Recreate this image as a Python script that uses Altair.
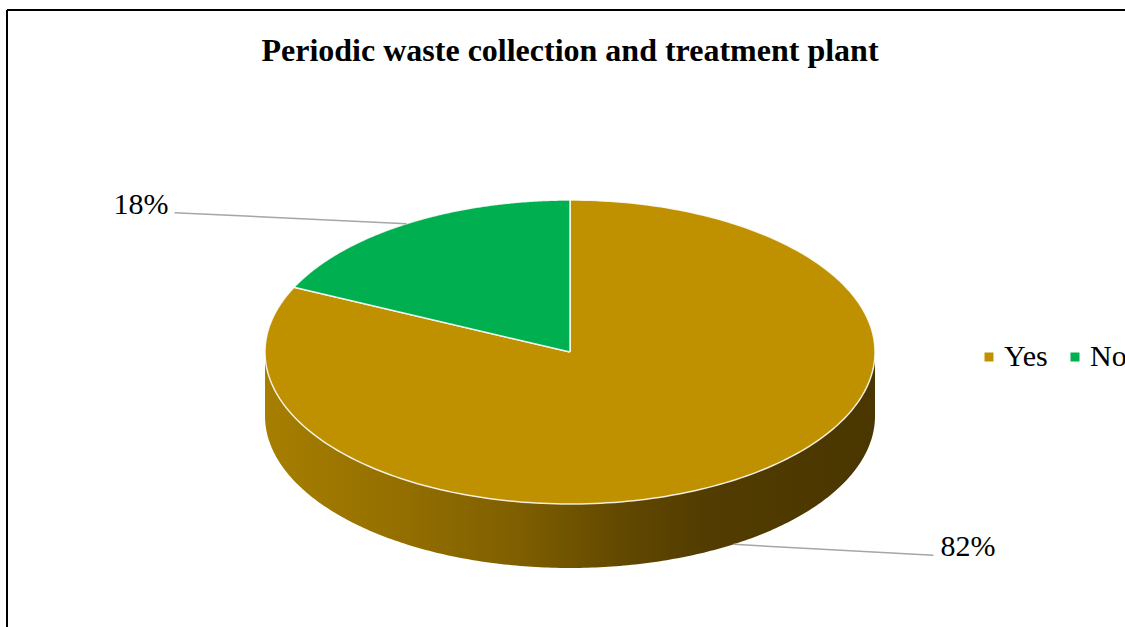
import altair as alt
import pandas as pd

# ---- data ----
categories = ["Yes", "No"]
values = [82, 18]

# ---- style / layout constants ----
COLORS = ["#BF9000", "#00B050"]
CX, CY = 570, 352          # centre of pie top face (page px)
RX, RY = 305, 152          # ellipse radii
DEPTH = 64                 # thickness of the 3D wall
N = 240                    # points per slice outline
LABEL_OFFSET = {"Yes": (200, 11), "No": (-232, -11)}
FONT = "Liberation Serif"
PAD_L, PAD_T = 7, 10
W, H = 1125 - PAD_L, 627 - PAD_T

df = pd.DataFrame({"cat": categories, "value": values, "order": list(range(len(categories)))})

xs = alt.Scale(domain=[PAD_L, PAD_L + W], nice=False, zero=False)
ys = alt.Scale(domain=[PAD_T, PAD_T + H], nice=False, zero=False, reverse=True)

def dict_expr(d, i):
    e = "0"
    for k, v in d.items():
        e = f"(datum.cat == '{k}' ? {v[i]} : {e})"
    return e

base = (
    alt.Chart(df)
    .transform_joinaggregate(total="sum(value)")
    .transform_window(cum="sum(value)", frame=[None, 0], sort=[alt.SortField("order")])
    .transform_calculate(
        start="(datum.cum - datum.value) / datum.total",
        end="datum.cum / datum.total",
    )
)

# side wall (front half only) drawn as a closed outline: upper edge forward, lower edge back
wall = (
    base.transform_calculate(ws="max(datum.start, 0.25)", we="min(datum.end, 0.75)")
    .transform_filter("datum.ws < datum.we")
    .transform_calculate(idx=f"sequence(0, {2 * N})")
    .transform_flatten(["idx"])
    .transform_calculate(
        lower=f"datum.idx >= {N}",
        k=f"datum.idx < {N} ? datum.idx : {2 * N - 1} - datum.idx",
    )
    .transform_calculate(fw=f"datum.ws + (datum.we - datum.ws) * datum.k / ({N} - 1)")
    .transform_calculate(
        wx=f"{CX} + {RX} * sin(2 * PI * datum.fw)",
        wy=f"{CY} - {RY} * cos(2 * PI * datum.fw) + (datum.lower ? {DEPTH} : 0)",
    )
    .mark_line(
        fill=alt.Gradient(
            gradient="linear",
            x1=0, x2=1, y1=0, y2=0,
            stops=[
                alt.GradientStop(color="#A67E00", offset=0),
                alt.GradientStop(color="#967100", offset=0.2),
                alt.GradientStop(color="#7E5E00", offset=0.42),
                alt.GradientStop(color="#634900", offset=0.58),
                alt.GradientStop(color="#523C00", offset=0.72),
                alt.GradientStop(color="#4A3600", offset=1),
            ],
        ),
        strokeWidth=0,
    )
    .encode(
        x=alt.X("wx:Q", scale=xs, axis=None),
        y=alt.Y("wy:Q", scale=ys, axis=None),
        order="idx:Q",
        detail="cat:N",
    )
)

# top face slices
top = (
    base.transform_calculate(idx=f"sequence(0, {N + 2})")
    .transform_flatten(["idx"])
    .transform_calculate(
        f=f"datum.start + (datum.end - datum.start) * clamp((datum.idx - 1) / ({N} - 1), 0, 1)",
        centre=f"datum.idx == 0 || datum.idx == {N + 1}",
    )
    .transform_calculate(
        px=f"datum.centre ? {CX} : {CX} + {RX} * sin(2 * PI * datum.f)",
        py=f"datum.centre ? {CY} : {CY} - {RY} * cos(2 * PI * datum.f)",
    )
    .mark_line(stroke="#FFFFFF", strokeWidth=1.5, strokeOpacity=0.85, strokeJoin="round")
    .encode(
        x=alt.X("px:Q", scale=xs, axis=None),
        y=alt.Y("py:Q", scale=ys, axis=None),
        order="idx:Q",
        detail="cat:N",
        fill=alt.Fill(
            "cat:N",
            scale=alt.Scale(domain=categories, range=COLORS),
            sort=categories,
            legend=alt.Legend(
                title=None,
                orient="none",
                legendX=967,
                legendY=332,
                direction="horizontal",
                symbolType="square",
                symbolSize=81,
                symbolStrokeWidth=0,
                labelFont=FONT,
                labelFontSize=30,
                labelColor="#000000",
                labelOffset=0,
                columnPadding=12,
            ),
        ),
    )
)

# label anchor points
lab = (
    base.transform_calculate(mid="(datum.start + datum.end) / 2")
    .transform_calculate(
        ex=f"{CX} + {RX} * sin(2 * PI * datum.mid)",
        ey=f"{CY} - {RY} * cos(2 * PI * datum.mid) + (cos(2 * PI * datum.mid) < 0 ? {DEPTH} : 0)",
        pct="format(datum.value / datum.total, '.0%')",
    )
    .transform_calculate(
        lx=f"datum.ex + {dict_expr(LABEL_OFFSET, 0)}",
        ly=f"datum.ey + {dict_expr(LABEL_OFFSET, 1)}",
    )
)

leader = lab.mark_rule(color="#A6A6A6", strokeWidth=1.5).encode(
    x=alt.X("ex:Q", scale=xs, axis=None),
    y=alt.Y("ey:Q", scale=ys, axis=None),
    x2="lx:Q",
    y2="ly:Q",
)

text_left = (
    lab.transform_filter("datum.lx < datum.ex")
    .transform_calculate(tx="datum.lx - 6", ty="datum.ly + 1")
    .mark_text(align="right", baseline="alphabetic", font=FONT, fontSize=30, color="#000000")
    .encode(x=alt.X("tx:Q", scale=xs, axis=None), y=alt.Y("ty:Q", scale=ys, axis=None), text="pct:N")
)
text_right = (
    lab.transform_filter("datum.lx >= datum.ex")
    .transform_calculate(tx="datum.lx + 7", ty="datum.ly + 1")
    .mark_text(align="left", baseline="alphabetic", font=FONT, fontSize=30, color="#000000")
    .encode(x=alt.X("tx:Q", scale=xs, axis=None), y=alt.Y("ty:Q", scale=ys, axis=None), text="pct:N")
)

# chart frame: left and top edges only (right/bottom fall outside the picture)
frame_left = alt.Chart(df).mark_rule(color="#000000", strokeWidth=2).encode(
    x=alt.value(0), y=alt.value(0), y2=alt.value(H)
)
frame_top = alt.Chart(df).mark_rule(color="#000000", strokeWidth=2).encode(
    x=alt.value(0), x2=alt.value(W), y=alt.value(0)
)

chart = (
    alt.layer(wall, top, leader, text_left, text_right, frame_left, frame_top)
    .properties(
        width=W,
        height=H,
        padding={"left": PAD_L, "top": PAD_T, "right": 0, "bottom": 0},
        autosize=alt.AutoSizeParams(type="none"),
        background="#FFFFFF",
        title=alt.TitleParams(
            text="Periodic waste collection and treatment plant",
            font=FONT,
            fontSize=32,
            fontWeight="bold",
            color="#000000",
            anchor="middle",
            frame="group",
            baseline="alphabetic",
            offset=0,
            dx=4,
            dy=84,
        ),
    )
    .configure_view(stroke="transparent")
)

chart.save("out.html", embed_options={"renderer": "svg", "actions": False})
